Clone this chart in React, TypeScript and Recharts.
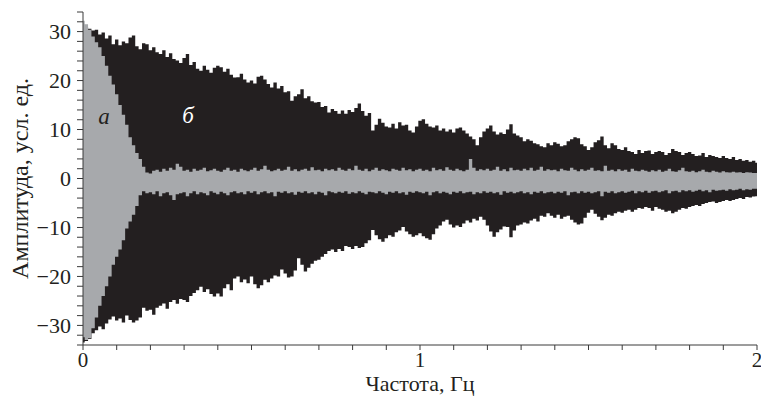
import { Area, AreaChart, ReferenceDot, XAxis, YAxis } from 'recharts';

// envelopes, one value every 0.01 Hz from 0 to 2 Hz
// б — black trace, upper and lower edge
const bHi = [
  31, 31, 30.6, 30.2, 30.4, 29.4, 29.8, 28.6, 29.2, 27.4,
  28.4, 27.2, 28.0, 27.6, 28.8, 29.2, 27.0, 26.4, 27.6, 27.4,
  26.2, 26.8, 25.8, 25.4, 26.2, 24.8, 25.6, 24.4, 24.1, 23.6,
  24.6, 25.4, 23.2, 23.8, 22.4, 22.0, 23.0, 22.2, 21.6, 22.6,
  23.0, 22.7, 21.8, 22.4, 21.2, 20.6, 20.7, 21.4, 20.2, 19.6,
  20.0, 19.4, 20.8, 21.0, 20.2, 19.3, 18.6, 19.6, 18.4, 18.9,
  17.6, 17.8, 15.9, 16.8, 17.2, 18.2, 16.4, 16.8, 15.8, 15.5,
  15.6, 14.6, 14.8, 13.5, 14.2, 13.8, 13.2, 13.9, 13.2, 14.0,
  13.6, 14.4, 15.3, 13.8, 12.8, 13.4, 9.8, 11.0, 12.2, 11.4,
  10.6, 10.4, 11.2, 10.2, 11.5, 10.8, 11.0, 9.8, 9.4, 10.6,
  11.8, 12.1, 11.2, 10.6, 10.4, 10.8, 9.8, 10.2, 9.6, 10.0,
  9.4, 10.2, 10.4, 9.8, 9.2, 8.6, 8.0, 6.8, 8.4, 9.6,
  10.2, 10.8, 9.6, 9.0, 9.4, 9.1, 10.0, 11.1, 9.2, 8.8,
  8.4, 7.6, 8.0, 7.7, 7.2, 7.0, 6.6, 6.4, 7.2, 6.8,
  7.4, 7.1, 6.6, 6.8, 7.6, 8.0, 8.4, 8.2, 7.0, 6.6,
  5.8, 6.4, 7.4, 7.8, 8.6, 6.8, 6.2, 7.2, 6.8, 6.0,
  5.8, 6.4, 5.6, 5.4, 5.0, 5.8, 5.2, 5.6, 5.7, 5.0,
  5.4, 5.6, 5.4, 4.8, 5.2, 6.0, 5.6, 5.4, 4.8, 5.2,
  5.4, 5.0, 4.6, 4.7, 5.2, 4.4, 4.8, 4.6, 4.4, 4.2,
  4.6, 4.2, 4.0, 4.4, 3.8, 4.0, 3.6, 3.8, 3.4, 3.6,
  3.2,
];
const bLo = [
  -33.5, -33.2, -32.8, -31.6, -31.0, -30.2, -30.8, -29.6, -28.8, -28.2,
  -29.0, -28.6, -29.4, -28.0, -28.9, -29.4, -29.0, -28.4, -26.4, -27.0,
  -26.8, -27.8, -26.4, -26.0, -25.5, -26.6, -25.2, -24.8, -25.6, -24.6,
  -24.8, -25.2, -24.0, -23.4, -22.8, -22.1, -23.2, -22.6, -23.6, -24.1,
  -23.5, -24.1, -22.4, -21.6, -22.8, -20.4, -20.0, -21.2, -20.6, -21.4,
  -20.0, -21.6, -22.4, -21.8, -20.7, -21.2, -20.4, -19.8, -20.0, -18.6,
  -19.4, -20.2, -20.0, -18.8, -16.3, -17.6, -19.0, -18.2, -17.4, -16.8,
  -16.6, -16.0, -15.4, -14.8, -14.5, -15.0, -14.4, -14.8, -13.8, -14.0,
  -14.4, -13.8, -14.2, -14.0, -13.2, -12.6, -10.5, -11.6, -12.4, -12.9,
  -12.2, -11.6, -11.9, -11.0, -10.6, -9.9, -10.8, -11.4, -11.9, -11.6,
  -11.2, -11.8, -12.2, -12.5, -11.4, -10.2, -9.6, -8.8, -8.4, -9.4,
  -10.0, -9.6, -9.9, -9.2, -8.6, -9.0, -8.2, -8.6, -7.8, -8.4,
  -9.6, -10.8, -11.9, -11.0, -10.4, -9.8, -9.9, -12.0, -10.6, -9.6,
  -9.4, -9.0, -9.2, -8.6, -8.2, -8.8, -7.6, -7.8, -7.1, -7.6,
  -8.0, -7.4, -8.2, -7.8, -7.6, -8.4, -9.0, -9.4, -9.2, -8.0,
  -7.0, -6.4, -7.2, -7.8, -8.5, -8.0, -7.4, -7.6, -7.1, -6.8,
  -7.0, -6.6, -6.4, -6.8, -6.4, -6.0, -6.2, -5.8, -6.0, -6.6,
  -5.8, -6.2, -6.4, -6.8, -6.6, -7.1, -6.8, -6.4, -6.0, -6.2,
  -5.8, -5.6, -5.4, -5.6, -5.2, -5.0, -4.8, -4.7, -5.0, -4.8,
  -4.6, -4.4, -4.6, -4.4, -4.2, -4.0, -4.2, -3.8, -3.9, -3.7,
  -3.6,
];

// а — grey trace, upper and lower edge
const aHi = [
  32.2, 31.5, 30.4, 29.0, 27.8, 26.8, 25.0, 23.0, 21.0, 19.2,
  17.2, 15.0, 13.0, 11.0, 8.4, 6.8, 5.2, 4.0, 2.4, 1.2,
  1.0, 1.6, 1.8, 1.4, 2.0, 1.6, 2.2, 1.8, 3.0, 2.4,
  1.6, 1.8, 1.4, 2.0, 1.6, 1.8, 2.2, 1.5, 1.7, 2.0,
  1.6, 1.4, 1.8, 2.2, 1.6, 1.8, 1.4, 2.0, 1.7, 1.5,
  1.8, 2.2, 1.6, 1.9, 2.6, 1.8, 1.5, 1.7, 2.0, 1.6,
  1.8, 2.4, 1.6, 1.9, 1.5, 1.8, 2.0, 1.6, 2.3, 1.7,
  1.8, 1.5, 2.0, 1.7, 1.9, 1.6, 2.2, 1.8, 1.6, 2.0,
  1.7, 2.6, 1.8, 1.6, 2.0, 1.5, 1.8, 2.2, 1.6, 1.9,
  1.7, 1.5, 2.0, 1.8, 1.6, 2.2, 1.7, 1.9, 1.5, 1.8,
  2.0, 1.6, 1.8, 1.5, 2.2, 1.7, 1.9, 1.6, 2.3, 1.8,
  1.6, 2.0, 1.7, 1.5, 1.8, 4.0, 2.2, 1.6, 1.9, 1.7,
  2.0, 1.6, 1.8, 2.4, 1.6, 1.9, 1.5, 2.2, 1.7, 1.8,
  1.6, 2.0, 1.7, 2.2, 1.6, 1.8, 2.4, 1.6, 1.9, 1.7,
  1.8, 1.5, 2.0, 1.7, 1.6, 2.2, 1.8, 1.5, 1.9, 1.6,
  1.8, 2.2, 1.6, 1.7, 1.5, 2.6, 1.6, 1.8, 1.5, 1.9,
  1.6, 1.8, 1.4, 2.0, 1.6, 1.5, 1.8, 1.6, 1.4, 1.7,
  1.5, 1.8, 1.4, 1.6, 2.0, 1.5, 1.4, 1.7, 2.2, 1.5,
  1.4, 1.6, 1.3, 1.5, 1.8, 1.4, 1.3, 1.6, 1.4, 1.2,
  1.5, 1.3, 1.2, 1.4, 1.2, 1.3, 1.1, 1.3, 1.2, 1.1,
  1.1,
];
const aLo = [
  -32.4, -33.0, -32.6, -30.6, -28.4, -26.0, -24.0, -22.0, -20.0, -17.6,
  -16.0, -14.5, -12.6, -10.2, -8.8, -7.4, -5.6, -3.4, -2.6, -3.0,
  -2.8, -3.2, -2.6, -3.6, -3.0, -2.8, -3.4, -4.4, -3.2, -3.0,
  -2.8, -3.6, -3.0, -2.6, -3.2, -2.8, -3.0, -3.4, -2.6, -2.9,
  -3.2, -2.7, -3.0, -3.4, -2.8, -2.6, -3.0, -2.8, -3.2, -2.6,
  -2.9, -2.6, -3.2, -2.8, -2.6, -3.0, -2.8, -3.6, -2.7, -2.9,
  -2.6, -3.0, -2.8, -3.3, -2.7, -2.9, -2.6, -3.0, -2.8, -3.2,
  -2.7, -2.9, -3.4, -2.6, -2.8, -3.0, -2.7, -2.9, -2.6, -3.1,
  -2.8, -3.0, -2.6, -2.9, -3.2, -2.7, -2.8, -3.0, -2.6, -2.9,
  -3.2, -2.7, -2.9, -2.6, -3.0, -2.8, -3.3, -2.7, -2.9, -2.6,
  -2.8, -3.0, -2.7, -3.4, -2.8, -2.6, -3.0, -2.7, -2.9, -3.2,
  -2.7, -2.9, -2.6, -3.0, -2.8, -2.7, -3.2, -2.8, -3.0, -2.6,
  -2.9, -2.7, -3.0, -2.8, -3.3, -2.6, -2.9, -2.7, -3.0, -2.8,
  -2.6, -3.0, -2.8, -3.2, -2.7, -2.9, -2.6, -3.0, -2.8, -2.7,
  -3.0, -2.7, -2.9, -2.6, -3.4, -2.8, -2.7, -3.0, -2.6, -2.9,
  -2.7, -3.0, -2.8, -2.6, -3.6, -2.7, -2.9, -2.6, -3.0, -2.8,
  -2.6, -2.9, -2.7, -2.5, -3.0, -2.6, -2.8, -2.5, -2.9, -2.6,
  -2.5, -2.8, -2.6, -2.4, -3.0, -2.6, -2.5, -2.8, -2.4, -2.6,
  -2.4, -2.7, -2.5, -2.3, -2.6, -2.4, -2.8, -2.3, -2.5, -2.4,
  -2.3, -2.5, -2.2, -2.4, -2.3, -2.1, -2.4, -2.2, -2.3, -2.1,
  -2.1,
];

const xTicks = [0, 0.1, 0.2, 0.3, 0.4, 0.5, 0.6, 0.7, 0.8, 0.9, 1, 1.1, 1.2, 1.3, 1.4, 1.5, 1.6, 1.7, 1.8, 1.9, 2];
const yTicks = [-34, -32, -30, -28, -26, -24, -22, -20, -18, -16, -14, -12, -10, -8, -6, -4, -2, 0, 2, 4, 6, 8, 10, 12, 14, 16, 18, 20, 22, 24, 26, 28, 30, 32, 34];

const INK = '#231f20';
const GREY = '#a7a9ac';
const AXIS = '#3a3a3a';
const FONT = 'Liberation Serif';

const rows = bHi.map((_, i) => ({
  f: i / 100,
  b: [bLo[i], bHi[i]],
  a: [aLo[i], aHi[i]],
}));

const xFmt = (v: number) => (Math.abs(v - Math.round(v)) < 1e-6 ? String(Math.round(v)) : '');
const yFmt = (v: number) => (v % 10 === 0 ? (v < 0 ? '\u2212' + Math.abs(v) : String(v)) : '');

const textStyle = { fontFamily: FONT };

export default function App() {
  return (
    <div style={{ position: 'absolute', left: 0, top: 0, background: '#fff', fontFamily: FONT }}>
      <AreaChart width={761} height={396} data={rows} margin={{ top: 12, right: 4, bottom: 0, left: 0 }} style={textStyle}>
        <XAxis
          dataKey="f"
          type="number"
          domain={[0, 2]}
          ticks={xTicks}
          interval={0}
          tickFormatter={xFmt}
          height={51}
          tickSize={5}
          tickMargin={2}
          axisLine={{ stroke: AXIS }}
          tickLine={{ stroke: AXIS }}
          tick={{ fill: INK, fontSize: 21, fontFamily: FONT, style: textStyle }}
          label={{ value: 'Частота, Гц', position: 'insideBottom', offset: 5, fill: INK, fontSize: 22, fontFamily: FONT, style: textStyle }}
        />
        <YAxis
          type="number"
          domain={[-34, 34]}
          ticks={yTicks}
          interval={0}
          tickFormatter={yFmt}
          width={83}
          tickSize={6}
          tickMargin={6}
          axisLine={{ stroke: AXIS }}
          tickLine={{ stroke: AXIS }}
          tick={{ fill: INK, fontSize: 22, fontFamily: FONT, style: textStyle }}
          label={{
            value: 'Амплитуда, усл. ед.',
            angle: -90,
            position: 'insideLeft',
            offset: 19,
            fill: INK,
            fontSize: 24,
            fontFamily: FONT,
            style: { ...textStyle, textAnchor: 'middle' },
          }}
        />
        <Area dataKey="b" type="step" fill={INK} fillOpacity={1} stroke="none" dot={false} activeDot={false} isAnimationActive={false} />
        <Area dataKey="a" type="step" fill={GREY} fillOpacity={1} stroke="none" dot={false} activeDot={false} isAnimationActive={false} />
        <ReferenceDot
          x={0.062}
          y={12.7}
          r={0}
          stroke="none"
          label={{ value: 'а', position: 'center', fill: INK, fontSize: 23, fontStyle: 'italic', fontFamily: FONT, style: { ...textStyle, fontStyle: 'italic' } }}
        />
        <ReferenceDot
          x={0.312}
          y={12.9}
          r={0}
          stroke="none"
          label={{ value: 'б', position: 'center', fill: '#ffffff', fontSize: 23, fontStyle: 'italic', fontFamily: FONT, style: { ...textStyle, fontStyle: 'italic' } }}
        />
      </AreaChart>
    </div>
  );
}
